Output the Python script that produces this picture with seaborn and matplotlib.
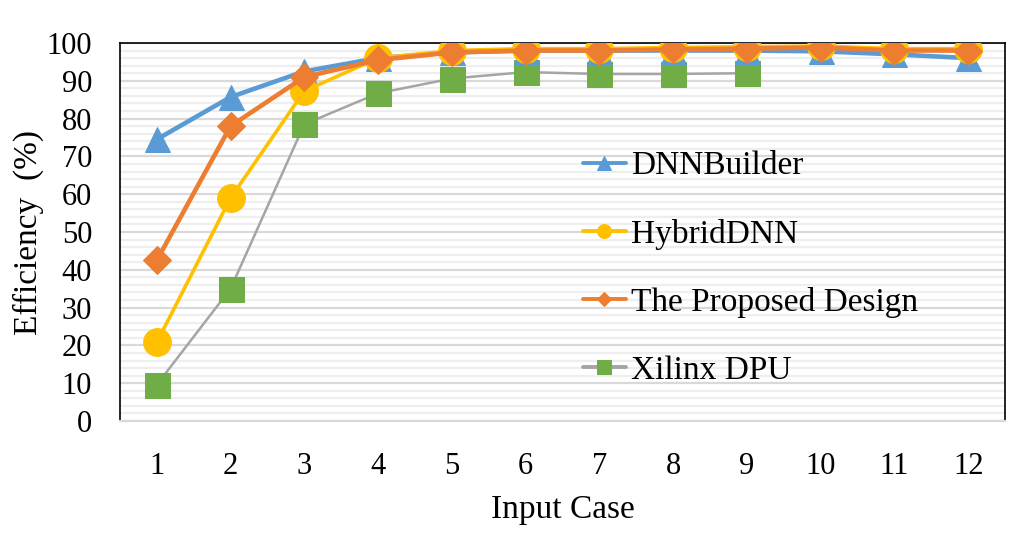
import matplotlib
matplotlib.use("Agg")
import matplotlib.pyplot as plt
import seaborn as sns
import numpy as np
from matplotlib.ticker import MultipleLocator

cases = [1, 2, 3, 4, 5, 6, 7, 8, 9, 10, 11, 12]
dnnbuilder = [74.5, 85.7, 92.5, 96.0, 97.5, 98.0, 98.0, 98.0, 98.0, 97.8, 97.0, 96.0]
hybriddnn = [20.8, 59.0, 87.3, 96.0, 98.0, 98.5, 98.5, 98.8, 99.0, 99.2, 98.5, 98.5]
proposed = [42.5, 78.0, 91.0, 95.5, 97.5, 98.0, 98.0, 98.3, 98.5, 98.8, 98.0, 98.0]
dpu_cases = [1, 2, 3, 4, 5, 6, 7, 8, 9]
xilinx_dpu = [9.6, 35.0, 78.5, 86.7, 90.6, 92.3, 91.8, 91.8, 92.0]

sns.set_theme(style="white")
plt.rcParams['font.family'] = ['Liberation Serif', 'DejaVu Serif']

fig = plt.figure(figsize=(10.25, 5.42), dpi=100)
ax = fig.add_axes([0.117, 0.2232, 0.8635, 0.6975])

BLUE = "#5B9BD5"
YELLOW = "#FFC000"
ORANGE = "#ED7D31"
GREEN = "#70AD47"
GRAY = "#A5A5A5"

sns.lineplot(x=dpu_cases, y=xilinx_dpu, ax=ax, color=GRAY, linewidth=1.8,
             marker="s", markersize=18, markerfacecolor=GREEN, markeredgecolor=GREEN,
             label="Xilinx DPU", zorder=3)
sns.lineplot(x=cases, y=dnnbuilder, ax=ax, color=BLUE, linewidth=3.3,
             marker="^", markersize=18, markerfacecolor=BLUE, markeredgecolor=BLUE,
             label="DNNBuilder", zorder=4)
sns.lineplot(x=cases, y=hybriddnn, ax=ax, color=YELLOW, linewidth=2.6,
             marker="o", markersize=20, markerfacecolor=YELLOW, markeredgecolor=YELLOW,
             label="HybridDNN", zorder=5)
sns.lineplot(x=cases, y=proposed, ax=ax, color=ORANGE, linewidth=3.3,
             marker="D", markersize=14, markerfacecolor=ORANGE, markeredgecolor=ORANGE,
             label="The Proposed Design", zorder=6)

ax.set_xlim(0.5, 12.5)
ax.set_ylim(0, 100)
ax.set_xticks(cases)
ax.set_xticklabels([str(c) for c in cases])
ax.yaxis.set_major_locator(MultipleLocator(10))
ax.yaxis.set_minor_locator(MultipleLocator(2))
ax.grid(which="major", axis="y", color="#D9D9D9", linewidth=1.6, zorder=0)
ax.grid(which="minor", axis="y", color="#EEEEEE", linewidth=1.6, zorder=0)
ax.grid(which="both", axis="x", visible=False)
ax.set_axisbelow(True)

ax.tick_params(axis="both", which="both", length=0, labelsize=22, colors="black")
ax.tick_params(axis="y", pad=20)
ax.tick_params(axis="x", pad=22)

for side in ["left", "top", "right"]:
    ax.spines[side].set_color("black")
    ax.spines[side].set_linewidth(1.2)
ax.spines["bottom"].set_color("#D9D9D9")
ax.spines["bottom"].set_linewidth(1.6)

ax.set_xlabel("Input Case", fontsize=24, color="black", labelpad=10)
ax.set_ylabel("Efficiency  (%)", fontsize=24, color="black", labelpad=2)

handles, labels = ax.get_legend_handles_labels()
order = ["DNNBuilder", "HybridDNN", "The Proposed Design", "Xilinx DPU"]
hmap = dict(zip(labels, handles))
leg = ax.legend([hmap[o] for o in order], order, loc="center left",
                bbox_to_anchor=(0.523, 0.404), frameon=False, fontsize=24,
                handlelength=1.3, handletextpad=0.15, labelspacing=1.12,
                borderaxespad=0, borderpad=0)
for h in leg.legend_handles:
    h.set_markersize(10 if h.get_marker() != "D" else 7)
    h.set_linewidth(2.8)
for t in leg.get_texts():
    t.set_color("black")

fig.savefig("out.png", dpi=100)
